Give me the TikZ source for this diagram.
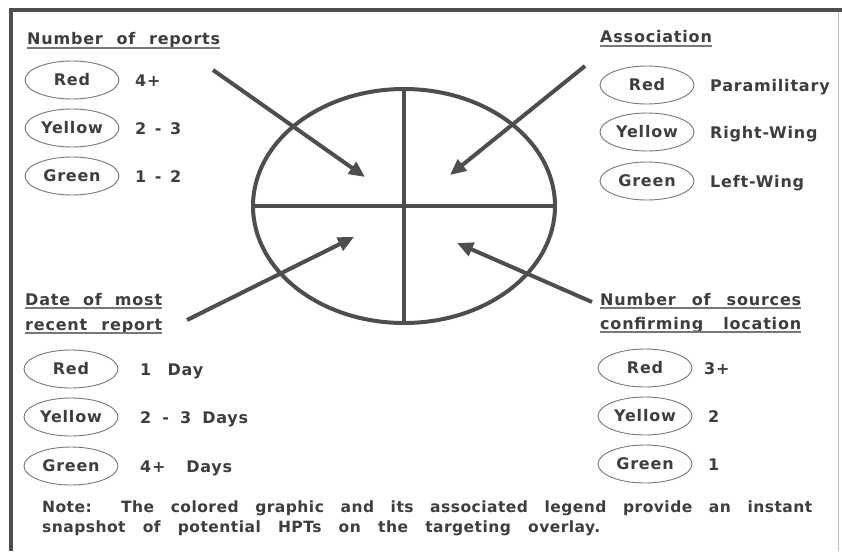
\documentclass[tikz,border=0pt]{standalone}
\usepackage{fontspec}
\setmainfont{DejaVu Sans}
\newfontfamily\labfont{DejaVu Sans Bold}[LetterSpace=5]
\newfontfamily\notefont{DejaVu Sans Bold}[LetterSpace=3]
\usetikzlibrary{shapes.geometric,arrows.meta}
\definecolor{ink}{RGB}{62,62,62}
\definecolor{lineg}{RGB}{78,78,78}
\definecolor{ovalg}{RGB}{120,120,120}
\newcommand{\wb}[2]{\makebox[#1pt][s]{#2}}
\begin{document}
\begin{tikzpicture}[x=1pt,y=-1pt,
  lab/.style={inner sep=0pt, anchor=base west, text=ink, font=\labfont\fontsize{16}{19}\selectfont},
  note/.style={inner sep=0pt, anchor=base west, text=ink, font=\notefont\fontsize{15.5}{18}\selectfont},
  oval/.style={ellipse, draw=ovalg, line width=0.9pt, minimum width=94pt, minimum height=38pt, inner sep=0pt, text=ink, font=\labfont\fontsize{16}{19}\selectfont},
  uline/.style={draw=ovalg, line width=1.6pt},
  arr/.style={draw=lineg, line width=4pt, -{Triangle[length=16pt,width=14pt]}},
  frame/.style={draw=lineg, line width=4pt},
  quad/.style={draw=lineg, line width=3.5pt}]
\fill[white] (0,0) rectangle (842,551);
\useasboundingbox (0,0) rectangle (842,551);
% frame
\draw[frame] (842,10) -- (11,10) -- (11,551);
\draw[draw=black!25, line width=1pt] (838,12) -- (838,551);

% central graphic
\node[draw=lineg, line width=4pt, ellipse, minimum width=302pt, minimum height=234pt, inner sep=0pt] (circ) at (404,206) {};
\draw[quad] (circ.north) -- (circ.south);
\draw[quad] (circ.west) -- (circ.east);

% headings
\node[lab] (h1) at (27,45) {\wb{193}{Number of reports}};
\node[lab] (h2) at (600,43) {Association};
\node[lab] (h3a) at (25,305) {\wb{137}{Date of most}};
\node[lab] (h3b) at (25,330) {\wb{137}{recent report}};
\node[lab] (h4a) at (600,305) {\wb{201}{Number of sources}};
\node[lab] (h4b) at (600,329) {\wb{201}{confirming location}};
\foreach \h in {h1,h2,h3a,h3b,h4a,h4b}
  \draw[uline] ([yshift=-3pt]\h.base west) -- ([yshift=-3pt]\h.base east);

% legend ovals, top left
\node[oval] (tlr) at (72,80) {Red};
\node[oval] (tly) at (72,128) {Yellow};
\node[oval] (tlg) at (72,176) {Green};
\node[lab] (tlrv) at (135,86) {4+};
\node[lab] (tlyv) at (135,134) {\wb{46}{2 - 3}};
\node[lab] (tlgv) at (135,182) {\wb{46}{1 - 2}};

% top right
\node[oval] (trr) at (647,85) {Red};
\node[oval] (try) at (647,132) {Yellow};
\node[oval] (trg) at (647,181) {Green};
\node[lab] (trrv) at (710,91) {Paramilitary};
\node[lab] (tryv) at (710,138) {Right-Wing};
\node[lab] (trgv) at (710,187) {Left-Wing};

% bottom left
\node[oval] (blr) at (71,369) {Red};
\node[oval] (bly) at (71,417) {Yellow};
\node[oval] (blg) at (71,466) {Green};
\node[lab] (blrv) at (140,375) {\wb{63}{1 Day}};
\node[lab] (blyv) at (140,423) {\wb{108}{2 - 3 Days}};
\node[lab] (blgv) at (140,472) {\wb{92}{4+ Days}};

% bottom right
\node[oval] (brr) at (645,368) {Red};
\node[oval] (bry) at (645,416) {Yellow};
\node[oval] (brg) at (645,464) {Green};
\node[lab] (brrv) at (704,374) {3+};
\node[lab] (bryv) at (708,422) {2};
\node[lab] (brgv) at (708,470) {1};

% arrows
\coordinate (a1s) at (213,70);  \coordinate (a1e) at (365,177);
\coordinate (a2s) at (585,66);  \coordinate (a2e) at (450,175);
\coordinate (a3s) at (187,320); \coordinate (a3e) at (354,237);
\coordinate (a4s) at (592,302); \coordinate (a4e) at (457,243);
\draw[arr] (a1s) -- (a1e);
\draw[arr] (a2s) -- (a2e);
\draw[arr] (a3s) -- (a3e);
\draw[arr] (a4s) -- (a4e);

% note
\node[note] (n1) at (42,512) {\wb{770}{Note: The colored graphic and its associated legend provide an instant}};
\node[note] (n2) at (42,532) {\wb{558}{snapshot of potential HPTs on the targeting overlay.}};
\end{tikzpicture}
\end{document}
